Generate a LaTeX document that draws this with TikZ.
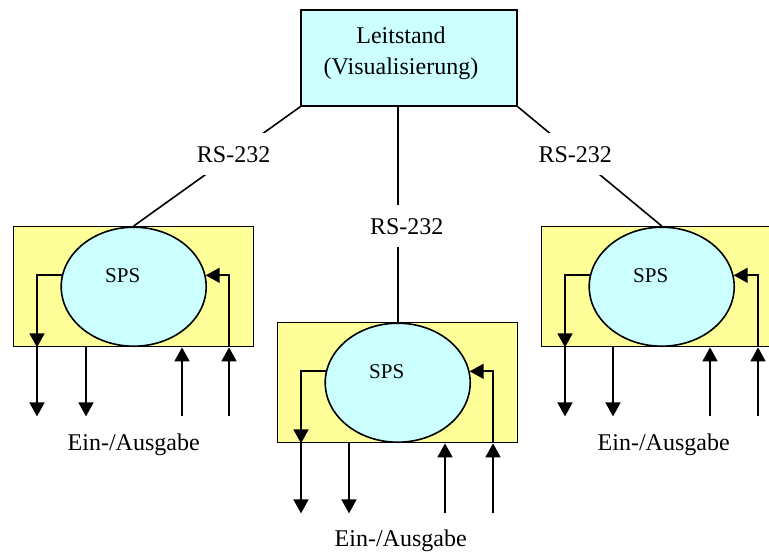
\documentclass[tikz,border=0pt]{standalone}
\usepackage{fontspec}
\setmainfont{Liberation Serif}
\usetikzlibrary{arrows.meta, shapes.geometric}
\definecolor{plcyellow}{HTML}{FFFF99}
\definecolor{spscyan}{HTML}{CCFFFF}
\begin{document}
\begin{tikzpicture}[
    x=0.5pt, y=-0.5pt,
    leitbox/.style={
        rectangle, minimum width=108pt, minimum height=48pt,
        draw=black, fill=spscyan, line width=0.7pt
    },
    plc/.style={
        rectangle, minimum width=120pt, minimum height=60pt,
        draw=black, fill=plcyellow, line width=0.7pt, anchor=north west
    },
    sps/.style={
        ellipse, minimum width=72.5pt, minimum height=59.5pt,
        inner sep=0pt, draw=black, fill=spscyan, line width=0.8pt
    },
    txt/.style={
        font=\fontsize{12}{15.5}\selectfont, align=center, inner sep=1pt
    },
    spstxt/.style={
        font=\fontsize{10.5}{12}\selectfont, inner sep=1pt
    },
    bus/.style={
        font=\fontsize{12}{14}\selectfont, fill=white,
        inner xsep=1pt, inner ysep=6.5pt
    },
    link/.style={line width=0.8pt, draw=black},
    arrow/.style={
        line width=0.85pt, draw=black,
        -{Triangle[length=7pt, width=7.5pt]}
    }
]
\useasboundingbox (0,0) rectangle (769,551);
\clip (0,0) rectangle (769,551);

% ===== Leitstand =====
\node[leitbox] (leit) at (409,58) {};
\node[txt] (leittext) at ([shift={(-8,-5)}]leit.center) {Leitstand\\(Visualisierung)};

% ===== SPS units =====
\node[plc] (plcL) at (13,226) {};
\node[sps] (spsL) at (plcL.center) {};
\node[spstxt] at ([shift={(-11,-11)}]spsL.center) {SPS};

\node[plc] (plcM) at (277,322) {};
\node[sps] (spsM) at (plcM.center) {};
\node[spstxt] at ([shift={(-11,-11)}]spsM.center) {SPS};

\node[plc] (plcR) at (541,226) {};
\node[sps] (spsR) at (plcR.center) {};
\node[spstxt] at ([shift={(-11,-11)}]spsR.center) {SPS};

% ===== RS-232 links =====
\draw[link] (leit.south west) -- node[bus, pos=0.4] {RS-232} (plcL.north);
\draw[link] (leit.south -| plcM.north) -- node[bus, pos=0.555, xshift=4.5pt] {RS-232} (plcM.north);
\draw[link] (leit.south east) -- node[bus, pos=0.4] {RS-232} (plcR.north);

% ===== I/O left =====
\coordinate (oL1) at ([shift={(24,0)}]plcL.south west);
\coordinate (oL2) at ([shift={(73,0)}]plcL.south west);
\coordinate (iL1) at ([shift={(169,0)}]plcL.south west);
\coordinate (iL2) at ([shift={(216,0)}]plcL.south west);
\draw[arrow] (spsL.171) -| (oL1);
\draw[arrow] (oL1) -- ++(0,69);
\draw[arrow] (oL2) -- ++(0,69);
\draw[arrow] ([shift={(0,69)}]iL1) -- (iL1);
\draw[arrow] ([shift={(0,69)}]iL2) -- (iL2);
\draw[arrow] (iL2) |- (spsL.9);
\node[txt] (ioL) at ([shift={(0,97)}]plcL.south) {Ein-/Ausgabe};

% ===== I/O middle =====
\coordinate (oM1) at ([shift={(24,0)}]plcM.south west);
\coordinate (oM2) at ([shift={(72,0)}]plcM.south west);
\coordinate (iM1) at ([shift={(168,0)}]plcM.south west);
\coordinate (iM2) at ([shift={(216,0)}]plcM.south west);
\draw[arrow] (spsM.171) -| (oM1);
\draw[arrow] (oM1) -- ++(0,70);
\draw[arrow] (oM2) -- ++(0,70);
\draw[arrow] ([shift={(0,70)}]iM1) -- (iM1);
\draw[arrow] ([shift={(0,70)}]iM2) -- (iM2);
\draw[arrow] (iM2) |- (spsM.9);
\node[txt] (ioM) at ([shift={(3,97)}]plcM.south) {Ein-/Ausgabe};

% ===== I/O right =====
\coordinate (oR1) at ([shift={(24,0)}]plcR.south west);
\coordinate (oR2) at ([shift={(72,0)}]plcR.south west);
\coordinate (iR1) at ([shift={(169,0)}]plcR.south west);
\coordinate (iR2) at ([shift={(217,0)}]plcR.south west);
\draw[arrow] (spsR.171) -| (oR1);
\draw[arrow] (oR1) -- ++(0,69);
\draw[arrow] (oR2) -- ++(0,69);
\draw[arrow] ([shift={(0,69)}]iR1) -- (iR1);
\draw[arrow] ([shift={(0,69)}]iR2) -- (iR2);
\draw[arrow] (iR2) |- (spsR.9);
\node[txt] (ioR) at ([shift={(2,97)}]plcR.south) {Ein-/Ausgabe};

\end{tikzpicture}
\end{document}
